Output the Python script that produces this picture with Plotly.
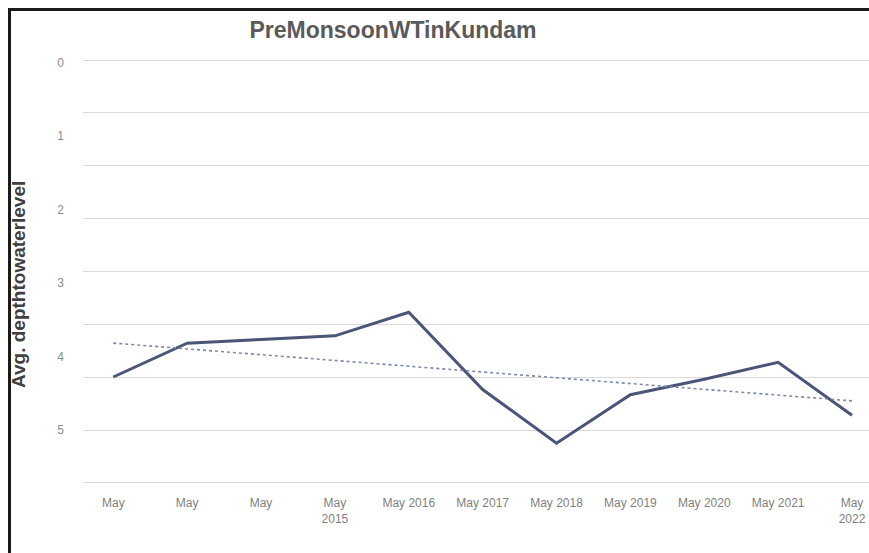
import numpy as np
import plotly.graph_objects as go

# Pre-monsoon average depth to water level (m below ground), Kundam
tick_labels = ["May", "May", "May", "May<br>2015", "May 2016", "May 2017",
               "May 2018", "May 2019", "May 2020", "May 2021", "May<br>2022"]
depth = [4.28, 3.82, 3.77, 3.72, 3.40, 4.45, 5.18, 4.52, 4.31, 4.08, 4.80]
y_ticks = [0, 1, 2, 3, 4, 5]

idx = np.arange(len(depth))
slope, intercept = np.polyfit(idx, depth, 1)
trend = slope * idx + intercept

W, H = 869, 553
ML, MR, MT, MB = 83, 0, 59, 69
pw, ph = W - ML - MR, H - MT - MB

# horizontal gridlines every ~0.72 units, independent of the labelled ticks
g_lo, g_hi = -0.03, 5.72
grid_vals = list(np.linspace(g_lo, g_hi, 9))
y_lo, y_hi = g_lo - 0.015, g_hi + 0.015

fig = go.Figure()
fig.add_trace(go.Scatter(
    x=idx, y=depth, mode="lines",
    line=dict(color="#4a5578", width=3),
    showlegend=False, hoverinfo="skip"))
fig.add_trace(go.Scatter(
    x=idx, y=trend, mode="lines",
    line=dict(color="#7b88ad", width=1.6, dash="dot"),
    showlegend=False, hoverinfo="skip"))

fig.update_layout(
    width=W, height=H,
    margin=dict(l=ML, r=MR, t=MT, b=MB),
    paper_bgcolor="white", plot_bgcolor="white",
    font=dict(family="Liberation Sans, Arial, sans-serif", color="#595959"),
    title=dict(text="<b>PreMonsoonWTinKundam</b>", x=393 / W, xanchor="center",
               y=1 - 30 / H, yanchor="middle",
               font=dict(size=23, color="#5a5a5a")),
    xaxis=dict(
        range=[-0.41, 10.23], tickmode="array", tickvals=list(idx),
        ticktext=tick_labels, showgrid=False, zeroline=False,
        showline=False, ticks="", ticklabelstandoff=10,
        tickfont=dict(size=12, color="#7f7f7f")),
    yaxis=dict(
        range=[y_hi, y_lo], tickmode="array", tickvals=y_ticks,
        showgrid=False, zeroline=False, showline=False, ticks="",
        ticklabelstandoff=18, tickfont=dict(size=12, color="#8c8c8c"),
        minor=dict(tickmode="array", tickvals=grid_vals, showgrid=True,
                   gridcolor="#d9d9d9", gridwidth=1.3, ticks="")),
    annotations=[dict(
        text="<b>Avg. depthtowaterlevel</b>", textangle=-90,
        xref="paper", yref="paper",
        x=(18 - ML) / pw, y=(H - MB - 285) / ph,
        xanchor="center", yanchor="middle", showarrow=False,
        font=dict(size=19, color="#404040"))],
    shapes=[
        dict(type="line", xref="paper", yref="paper",
             x0=(9.5 - ML) / pw, x1=(9.5 - ML) / pw,
             y0=(H - MB - 8) / ph, y1=-0.3,
             line=dict(color="#1a1a1a", width=3)),
        dict(type="line", xref="paper", yref="paper",
             x0=(8 - ML) / pw, x1=1.05,
             y0=(H - MB - 9.5) / ph, y1=(H - MB - 9.5) / ph,
             line=dict(color="#1a1a1a", width=3)),
    ],
)

fig.write_html("out.html")
